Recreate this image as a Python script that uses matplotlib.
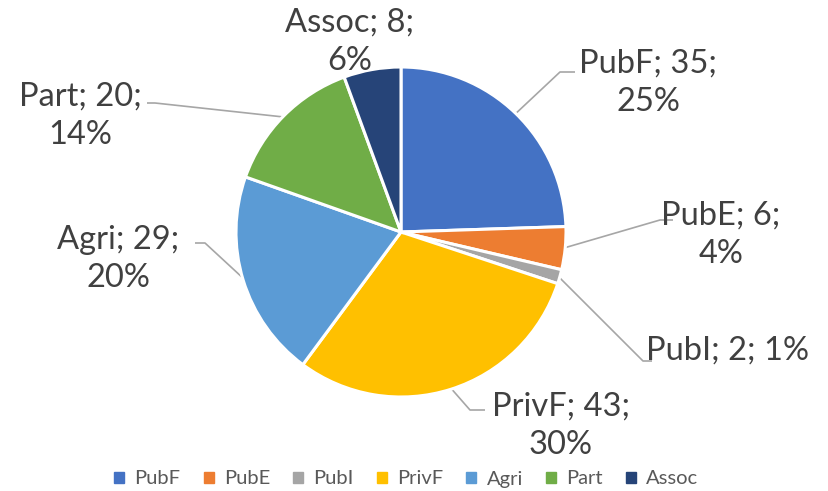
import numpy as np
import matplotlib.pyplot as plt

labels = ['PubF', 'PubE', 'PubI', 'PrivF', 'Agri', 'Part', 'Assoc']
values = [35, 6, 2, 43, 29, 20, 8]
pcts = [25, 4, 1, 30, 20, 14, 6]   # as shown on the chart
colors = ['#4472C4', '#ED7D31', '#A5A5A5', '#FFC000', '#5B9BD5', '#70AD47', '#264478']

W, H = 829, 491
cx, cy, R = 401, 232, 165   # pie centre / radius in pixels (from top)

def px(x, y):
    return (x - cx) / R, (cy - y) / R

fig = plt.figure(figsize=(W / 100, H / 100), dpi=100)
ax = fig.add_axes([0, 0, 1, 1])

wedges, _ = ax.pie(values, colors=colors, startangle=90, counterclock=False,
                   radius=1, wedgeprops=dict(edgecolor='white', linewidth=2.2))
ax.set_xlim(-cx / R, (W - cx) / R)
ax.set_ylim(-(H - cy) / R, cy / R)
ax.axis('off')

# label centre, line break, elbow point, label end of leader (pixels)
layout = {
    'PubF':  dict(pos=(648, 83), two=True, elbow=(560, 72), end=(575, 72)),
    'PubE':  dict(pos=(721, 235), two=True, elbow=(660, 220), end=(673, 220)),
    'PubI':  dict(pos=(727, 351), two=False, elbow=(643, 361), end=(652, 361)),
    'PrivF': dict(pos=(561, 426), two=True, elbow=(470, 410), end=(485, 410)),
    'Agri':  dict(pos=(118, 259), two=True, elbow=(205, 243), end=(195, 243)),
    'Part':  dict(pos=(80, 116), two=True, elbow=(155, 103), end=(147, 103)),
    'Assoc': dict(pos=(350, 42), two=True, elbow=None, end=None),
}

for w, lab, v, p in zip(wedges, labels, values, pcts):
    L = layout[lab]
    sep = '\n' if L['two'] else ' '
    txt = f'{lab}; {v};{sep}{p}%'
    ax.text(*px(*L['pos']), txt, ha='center', va='center', fontsize=23.5,
            family='Lato', color='#404040', linespacing=1.35)
    if L['elbow'] is not None:
        ang = np.deg2rad((w.theta1 + w.theta2) / 2)
        ex, ey = np.cos(ang) * 0.99, np.sin(ang) * 0.99
        bx, by = px(*L['elbow'])
        tx, ty = px(*L['end'])
        ax.plot([ex, bx, tx], [ey, by, ty], color='#A6A6A6', lw=1.2,
                solid_capstyle='butt', zorder=0.5)

handles = [plt.Rectangle((0, 0), 1, 1, color=c) for c in colors]
leg = fig.legend(handles, labels, loc='center', bbox_to_anchor=(0.49, 1 - 479 / H),
                 ncol=7, frameon=False, handlelength=0.5,
                 handleheight=0.5, handletextpad=0.5, columnspacing=1.15,
                 prop=dict(family='Lato', size=14.5))
for t in leg.get_texts():
    t.set_color('#595959')

fig.savefig('out.png', dpi=100)
